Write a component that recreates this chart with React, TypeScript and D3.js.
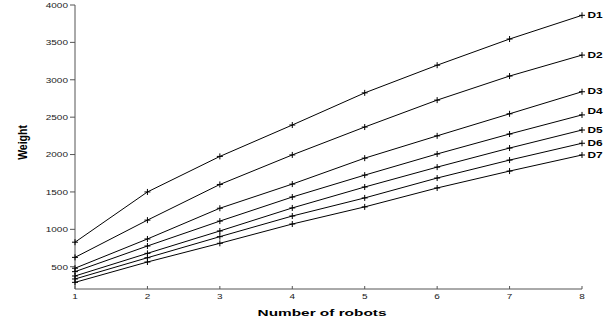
import * as d3 from "d3";

const robots = [1, 2, 3, 4, 5, 6, 7, 8];
const seriesNames = ["D1", "D2", "D3", "D4", "D5", "D6", "D7"];
const d1 = [828, 1500, 1975, 2395, 2825, 3195, 3545, 3862];
const d2 = [625, 1123, 1600, 1995, 2368, 2728, 3050, 3330];
const d3v = [480, 871, 1282, 1605, 1952, 2250, 2545, 2840];
const d4 = [434, 777, 1110, 1432, 1725, 2008, 2275, 2530];
const d5 = [376, 679, 978, 1286, 1566, 1832, 2087, 2328];
const d6 = [336, 620, 902, 1178, 1420, 1686, 1926, 2151];
const d7 = [291, 563, 813, 1071, 1300, 1553, 1779, 1994];
const allSeries = [d1, d2, d3v, d4, d5, d6, d7];
const yTicks = [500, 1000, 1500, 2000, 2500, 3000, 3500, 4000];

const W = 616;
const H = 331;
const x = d3.scaleLinear().domain([1, 8]).range([75, 582]);
const y = d3.scaleLinear().domain([202, 4000]).range([289, 5]);
const line = d3.line<number>().x((_, i) => x(robots[i])).y((v) => y(v));

// the figure is stretched sideways, so text is too
const tr = (tx: number, ty: number, sx: number) => `translate(${tx},${ty}) scale(${sx},1)`;

export default function App() {
  const font = "Liberation Sans, Arial, sans-serif";
  const axisCol = "#555";
  return (
    <svg width={W} height={H} style={{ position: "absolute", left: 0, top: 0, background: "#fff" }}>
      {/* axes */}
      <line x1={x(1)} x2={x(1)} y1={y(4000)} y2={y(202)} stroke={axisCol} strokeWidth={1} />
      <line x1={x(1)} x2={x(8)} y1={y(202)} y2={y(202)} stroke={axisCol} strokeWidth={1} />
      {yTicks.map((t) => (
        <g key={t}>
          <line x1={x(1) - 5} x2={x(1)} y1={y(t)} y2={y(t)} stroke={axisCol} />
          <text
            transform={tr(x(1) - 7, y(t), 1.25)}
            dy="0.35em"
            textAnchor="end"
            fontFamily={font}
            fontSize={8}
            fill="#222"
          >
            {t}
          </text>
        </g>
      ))}
      {robots.map((r) => (
        <g key={r}>
          <line x1={x(r)} x2={x(r)} y1={y(202)} y2={y(202) - 3} stroke={axisCol} />
          <text
            transform={tr(x(r), y(202) + 9.5, 1.25)}
            textAnchor="middle"
            fontFamily={font}
            fontSize={8}
            fill="#222"
          >
            {r}
          </text>
        </g>
      ))}
      {/* series */}
      {allSeries.map((s, si) => (
        <g key={si}>
          <path d={line(s) || ""} fill="none" stroke="#000" strokeWidth={1} />
          {s.map((v, i) => (
            <path
              key={i}
              d={`M${x(robots[i]) - 3},${y(v)}h6M${x(robots[i])},${y(v) - 3}v6`}
              stroke="#000"
              strokeWidth={1}
            />
          ))}
          <text
            transform={tr(x(8) + 5.5, y(s[7]) + 2.5 - (si === 3 ? 3 : 0), 1.32)}
            fontFamily={font}
            fontSize={9}
            fontWeight="bold"
            fill="#000"
          >
            {seriesNames[si]}
          </text>
        </g>
      ))}
      <text
        transform={`translate(27,142.5) scale(1.15,1) rotate(-90)`}
        textAnchor="middle"
        fontFamily={font}
        fontSize={10.5}
        fontWeight="bold"
      >
        Weight
      </text>
      <text
        transform={tr(322, 316, 1.62)}
        textAnchor="middle"
        fontFamily={font}
        fontSize={9.5}
        fontWeight="bold"
      >
        Number of robots
      </text>
    </svg>
  );
}
